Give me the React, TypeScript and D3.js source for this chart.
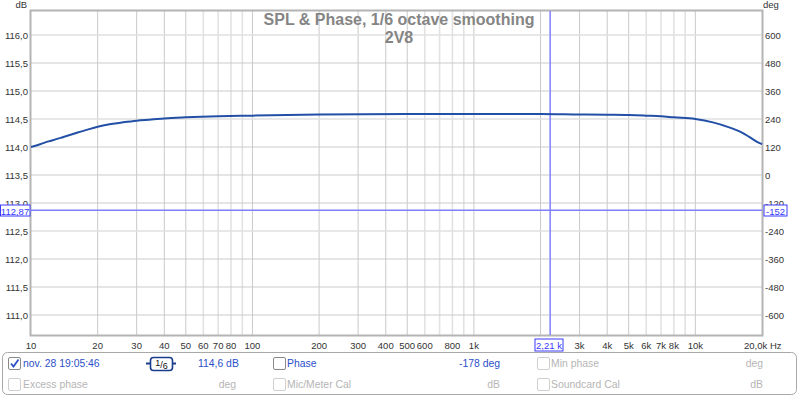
import * as d3 from 'd3';

// SPL curve
const freqs = [10, 11, 12, 13, 14, 16, 18, 20, 23, 26, 30, 35, 40, 50, 70, 100, 200, 500, 1000, 2000, 3000, 4000, 5000, 6000, 7000, 8000, 10000, 12000, 14000, 16000, 18000, 19000, 20000];
const spl = [114.0, 114.05, 114.1, 114.14, 114.18, 114.25, 114.31, 114.36, 114.41, 114.44, 114.47, 114.49, 114.51, 114.53, 114.55, 114.56, 114.58, 114.59, 114.59, 114.59, 114.58, 114.575, 114.57, 114.56, 114.55, 114.53, 114.5, 114.44, 114.36, 114.27, 114.15, 114.09, 114.05];

const dbTicks = [111, 111.5, 112, 112.5, 113, 113.5, 114, 114.5, 115, 115.5, 116];
const degTicks = [-600, -480, -360, -240, -120, 0, 120, 240, 360, 480, 600];
const freqLabels = [10, 20, 30, 40, 50, 60, 70, 80, 100, 200, 300, 400, 500, 600, 800, 1000, 3000, 4000, 5000, 6000, 7000, 8000, 10000];

const cursorFreq = 2210;
const cursorDb = 112.87;
const cursorDeg = -152;

const W = 800;
const H = 397;
const L = 31, R = 762, T = 11, B = 335;
const FONT = '"Liberation Sans", Arial, sans-serif';

export default function App() {
  const x = d3.scaleLog().domain([10, 20000]).range([L, R]);
  const yDb = d3.scaleLinear().domain([110.643, 116.4286]).range([B, T]);
  const yDeg = d3.scaleLinear().domain([-600, 600]).range([315, 35]);

  const gridFreqs: number[] = [];
  for (const dec of [10, 100, 1000, 10000]) {
    for (let m = 1; m <= 9; m++) {
      const f = dec * m;
      if (f > 10 && f < 20000) gridFreqs.push(f);
    }
  }

  const line = d3.line<number>()
    .x((_, i) => x(freqs[i]))
    .y(d => yDb(d))
    .curve(d3.curveMonotoneX);

  const fmtFreq = (v: number) => (v >= 1000 ? `${v / 1000}k` : `${v}`);
  const fmtDb = (v: number) => v.toFixed(1).replace('.', ',');

  const cx = x(cursorFreq);
  const cy = yDb(cursorDb);

  const Check = ({ px, py, checked, on }: { px: number; py: number; checked?: boolean; on?: boolean }) => (
    <g>
      <rect x={px + 0.5} y={py + 0.5} width={12} height={12} fill="#fff" stroke={on ? '#8a8a8a' : '#cfcfcf'} strokeWidth={1} rx={1.5} />
      {checked && <path d={`M${px + 3},${py + 6.5} L${px + 5.5},${py + 9.5} L${px + 10.5},${py + 2.5}`} fill="none" stroke="#2b4fc8" strokeWidth={1.8} />}
    </g>
  );

  const tick = 9.5;
  const leg = 10.4;

  return (
    <svg width={W} height={H} style={{ position: 'absolute', left: 0, top: 0, fontFamily: FONT }}>
      <rect x={0} y={0} width={W} height={H} fill="#fff" />

      {/* vertical grid */}
      {gridFreqs.map(f => {
        const m = Math.round(f / Math.pow(10, Math.floor(Math.log10(f))));
        const light = m >= 6;
        return (
          <line key={f} x1={x(f)} x2={x(f)} y1={T} y2={B}
            stroke={light ? '#e2e2e2' : '#c9c9c9'} strokeWidth={light ? 1.6 : 1} />
        );
      })}
      {/* horizontal grid */}
      {dbTicks.map(v => {
        const light = v === 116 || v === 114.5 || v === 112.5;
        return (
          <line key={v} x1={L} x2={R} y1={yDb(v)} y2={yDb(v)}
            stroke={light ? '#e0e0e0' : '#cbcbcb'} strokeWidth={light ? 1.6 : 1} />
        );
      })}

      {/* frame */}
      <rect x={L - 0.5} y={T - 0.5} width={R - L + 1} height={B - T + 1} fill="none" stroke="#b4b4b4" strokeWidth={2} />

      {/* title */}
      <text x={399} y={25} textAnchor="middle" fontSize={16} fontWeight="bold" fill="#858585">SPL &amp; Phase, 1/6 octave smoothing</text>
      <text x={399} y={43} textAnchor="middle" fontSize={16} fontWeight="bold" fill="#858585">2V8</text>

      {/* cursor lines */}
      <line x1={cx} x2={cx} y1={T} y2={B} stroke="#8080ff" strokeWidth={1.5} />
      <line x1={L} x2={R} y1={cy} y2={cy} stroke="#8080ff" strokeWidth={1.5} />

      {/* SPL curve */}
      <path d={line(spl) || ''} fill="none" stroke="#2350a6" strokeWidth={2} />

      {/* axis labels */}
      <text x={27} y={8} textAnchor="end" fontSize={tick} fill="#333">dB</text>
      <text x={763} y={8} fontSize={tick} fill="#333">deg</text>
      {dbTicks.map(v => (
        <text key={v} x={28} y={yDb(v) + 3.5} textAnchor="end" fontSize={tick} fill="#333">{fmtDb(v)}</text>
      ))}
      {degTicks.map(v => (
        <text key={v} x={765} y={yDeg(v) + 3.5} fontSize={tick} fill="#333">{v}</text>
      ))}
      {freqLabels.map(v => (
        <text key={v} x={x(v)} y={349} textAnchor="middle" fontSize={tick} fill="#333">{fmtFreq(v)}</text>
      ))}
      <text x={744} y={349} fontSize={tick} fill="#333">20,0k Hz</text>

      {/* cursor boxes */}
      <rect x={0.5} y={205} width={29.5} height={11} fill="#fff" stroke="#3a3aff" strokeWidth={1} />
      <text x={15} y={214.5} textAnchor="middle" fontSize={tick} fill="#3a3aff">{cursorDb.toFixed(2).replace('.', ',')}</text>
      <rect x={764} y={205} width={23} height={11} fill="#fff" stroke="#3a3aff" strokeWidth={1} />
      <text x={775.5} y={214.5} textAnchor="middle" fontSize={tick} fill="#3a3aff">{cursorDeg}</text>
      <rect x={535} y={339} width={28} height={12} fill="#fff" stroke="#3a3aff" strokeWidth={1} />
      <text x={549} y={349} textAnchor="middle" fontSize={tick} fill="#3a3aff">{(cursorFreq / 1000).toFixed(2).replace('.', ',')} k</text>

      {/* legend panel */}
      <rect x={2.5} y={352.5} width={794} height={42} rx={5} fill="#fff" stroke="#a8a8a8" strokeWidth={1} />
      <Check px={8} py={357} checked on />
      <text x={23} y={367} fontSize={leg} fill="#2b4fc8">nov. 28 19:05:46</text>
      <line x1={146} x2={176} y1={363.5} y2={363.5} stroke="#1a3c8c" strokeWidth={2} />
      <rect x={150.5} y={357.5} width={22} height={13} rx={3} fill="#fff" stroke="#1a3c8c" strokeWidth={1.6} />
      <text x={161.5} y={367.5} textAnchor="middle" fontSize={9} fill="#111">
        <tspan dy={-2}>1</tspan><tspan dy={2}>/</tspan><tspan dy={1.5}>6</tspan>
      </text>
      <text x={198} y={367} fontSize={leg} fill="#2b4fc8">114,6 dB</text>
      <Check px={273} py={357} on />
      <text x={287} y={367} fontSize={leg} fill="#2b4fc8">Phase</text>
      <text x={500} y={367} textAnchor="end" fontSize={leg} fill="#2b4fc8">-178 deg</text>
      <Check px={537} py={357} />
      <text x={551} y={367} fontSize={leg} fill="#b5b5b5">Min phase</text>
      <text x={763} y={367} textAnchor="end" fontSize={leg} fill="#b5b5b5">deg</text>

      <Check px={8} py={378} />
      <text x={23} y={388} fontSize={leg} fill="#b5b5b5">Excess phase</text>
      <text x={236} y={388} textAnchor="end" fontSize={leg} fill="#b5b5b5">deg</text>
      <Check px={273} py={378} />
      <text x={287} y={388} fontSize={leg} fill="#b5b5b5">Mic/Meter Cal</text>
      <text x={500} y={388} textAnchor="end" fontSize={leg} fill="#b5b5b5">dB</text>
      <Check px={537} py={378} />
      <text x={551} y={388} fontSize={leg} fill="#b5b5b5">Soundcard Cal</text>
      <text x={763} y={388} textAnchor="end" fontSize={leg} fill="#b5b5b5">dB</text>
    </svg>
  );
}
